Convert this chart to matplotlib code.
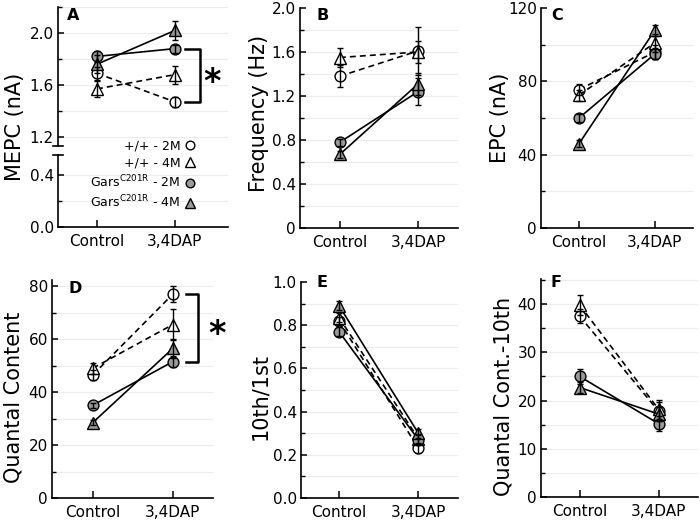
import matplotlib
matplotlib.use("Agg")
import matplotlib.pyplot as plt
from matplotlib.lines import Line2D
import numpy as np

plt.rcParams['font.family'] = ['DejaVu Sans']
plt.rcParams['lines.scale_dashes'] = False
plt.rcParams['mathtext.fontset'] = 'dejavusans'

# ---------------- data ----------------
conditions = ['Control', '3,4DAP']
series_names = ['+/+ - 2M', '+/+ - 4M',
                'Gars$^{\\mathrm{C201R}}$ - 2M', 'Gars$^{\\mathrm{C201R}}$ - 4M']

# A: MEPC (nA)
mepc_wt2m = [1.69, 1.47];   mepc_wt2m_err = [0.05, 0.04]
mepc_wt4m = [1.57, 1.68];   mepc_wt4m_err = [0.06, 0.07]
mepc_g2m = [1.82, 1.88];    mepc_g2m_err = [0.04, 0.03]
mepc_g4m = [1.76, 2.02];    mepc_g4m_err = [0.07, 0.07]

# B: Frequency (Hz)
freq_wt2m = [1.38, 1.61];   freq_wt2m_err = [0.10, 0.22]
freq_wt4m = [1.55, 1.60];   freq_wt4m_err = [0.09, 0.10]
freq_g2m = [0.78, 1.24];    freq_g2m_err = [0.03, 0.12]
freq_g4m = [0.67, 1.31];    freq_g4m_err = [0.03, 0.10]

# C: EPC (nA)
epc_wt2m = [75.5, 96.0];    epc_wt2m_err = [3, 4]
epc_wt4m = [72.5, 101.0];   epc_wt4m_err = [3, 5]
epc_g2m = [60.0, 95.0];     epc_g2m_err = [2, 3]
epc_g4m = [46.0, 108.0];    epc_g4m_err = [2, 3]

# D: Quantal Content
qc_wt2m = [46.5, 77.0];     qc_wt2m_err = [2, 3]
qc_wt4m = [49.0, 65.5];     qc_wt4m_err = [2, 6]
qc_g2m = [35.0, 51.5];      qc_g2m_err = [1, 2]
qc_g4m = [28.5, 56.5];      qc_g4m_err = [1, 3.5]

# E: 10th/1st
ratio_wt2m = [0.82, 0.23];  ratio_wt2m_err = [0.02, 0.02]
ratio_wt4m = [0.835, 0.275]; ratio_wt4m_err = [0.02, 0.02]
ratio_g2m = [0.77, 0.27];   ratio_g2m_err = [0.02, 0.02]
ratio_g4m = [0.89, 0.30];   ratio_g4m_err = [0.02, 0.02]

# F: Quantal Cont.-10th
qc10_wt2m = [37.5, 17.8];   qc10_wt2m_err = [1.5, 2.0]
qc10_wt4m = [39.8, 18.2];   qc10_wt4m_err = [2.0, 2.0]
qc10_g2m = [25.0, 15.2];    qc10_g2m_err = [1.5, 1.5]
qc10_g4m = [22.7, 17.2];    qc10_g4m_err = [1.2, 1.5]

# axis ticks
A_up_ticks = [1.2, 1.6, 2.0];  A_up_labels = ['1.2', '1.6', '2.0']
A_lo_ticks = [0.0, 0.4];       A_lo_labels = ['0.0', '0.4']
B_ticks = [0, 0.4, 0.8, 1.2, 1.6, 2.0]; B_labels = ['0', '0.4', '0.8', '1.2', '1.6', '2.0']
C_ticks = [0, 40, 80, 120];    C_labels = ['0', '40', '80', '120']
D_ticks = [0, 20, 40, 60, 80]; D_labels = ['0', '20', '40', '60', '80']
E_ticks = [0, 0.2, 0.4, 0.6, 0.8, 1.0]; E_labels = ['0.0', '0.2', '0.4', '0.6', '0.8', '1.0']
F_ticks = [0, 10, 20, 30, 40]; F_labels = ['0', '10', '20', '30', '40']

# ---------------- style ----------------
GRAY = '#9a9a9a'
styles = [dict(marker='o', mfc='white', ls='--', ms=7.8),
          dict(marker='^', mfc='white', ls='--', ms=8.2),
          dict(marker='o', mfc=GRAY, ls='-', ms=7.8),
          dict(marker='^', mfc=GRAY, ls='-', ms=8.2)]
W, H = 700, 523
fig = plt.figure(figsize=(7, 5.23), dpi=100)


def px_axes(left, right, top, bottom):
    return fig.add_axes([left / W, 1 - bottom / H, (right - left) / W, (bottom - top) / H])


def style_axes(ax, ylim, xlim, ticks, labels, minor_step, bottom=True):
    ax.set_ylim(*ylim)
    ax.set_xlim(*xlim)
    ax.set_yticks(ticks)
    ax.set_yticklabels(labels)
    lo = ticks[0] - minor_step * 4
    minors = [t for t in np.arange(lo, ylim[1] + 1e-9, minor_step)
              if ylim[0] - 1e-9 <= t <= ylim[1] + 1e-9 and
              all(abs(t - m) > 1e-9 for m in ticks)]
    ax.set_yticks(minors, minor=True)
    for t in list(ticks) + minors:
        if ylim[0] < t < ylim[1]:
            ax.axhline(t, color='#ececec', lw=0.8, zorder=0)
    for s in ['top', 'right']:
        ax.spines[s].set_visible(False)
    for s in ['left', 'bottom']:
        ax.spines[s].set_linewidth(1.2)
    ax.tick_params(axis='y', which='major', direction='in', length=4, width=1.1,
                   labelsize=11, pad=3)
    ax.tick_params(axis='y', which='minor', direction='in', length=3, width=1.0)
    if bottom:
        ax.set_xticks([0, 1])
        ax.set_xticklabels(conditions)
        ax.tick_params(axis='x', direction='in', length=5, width=1.1, labelsize=11, pad=5)
    else:
        ax.spines['bottom'].set_visible(False)
        ax.set_xticks([])


def draw(ax, vals, errs):
    for v, e, st in zip(vals, errs, styles):
        eb = ax.errorbar([0, 1], v, yerr=e, color='black', lw=1.2, marker=st['marker'],
                         ms=st['ms'], mfc=st['mfc'], mec='black', mew=1.0, ls=st['ls'],
                         elinewidth=1.0, capsize=2, capthick=1.0, barsabove=True, zorder=3)
        if st['ls'] == '--':
            eb.lines[0].set_dashes((4.3, 2.9))


# ---- A (broken axis) ----
A_up = px_axes(58, 228, 7, 146)
A_lo = px_axes(58, 228, 155, 227)
style_axes(A_up, (1.131, 2.2), (-0.5, 1.68), A_up_ticks, A_up_labels, 0.2, bottom=False)
style_axes(A_lo, (0.0, 0.554), (-0.5, 1.68), A_lo_ticks, A_lo_labels, 0.2)
draw(A_up, [mepc_wt2m, mepc_wt4m, mepc_g2m, mepc_g4m],
     [mepc_wt2m_err, mepc_wt4m_err, mepc_g2m_err, mepc_g4m_err])
A_up.set_ylabel('MEPC (nA)', fontsize=15)
A_up.yaxis.set_label_coords(-0.194, 0.137)
# break marks
A_up.plot([-0.03, 0.03], [0, 0], transform=A_up.transAxes, color='black', lw=1.2, clip_on=False)
A_lo.plot([-0.03, 0.03], [1, 1], transform=A_lo.transAxes, color='black', lw=1.2, clip_on=False)
# significance bracket
bx = 1.32
A_up.plot([1.13, bx, bx, 1.13], [mepc_g2m[1], mepc_g2m[1], mepc_wt2m[1], mepc_wt2m[1]],
          color='black', lw=1.8, clip_on=False, zorder=2)
A_up.annotate('*', xy=(1.47, (mepc_g2m[1] + mepc_wt2m[1]) / 2), xytext=(0, -12),
              textcoords='offset points', ha='center', va='baseline',
              fontsize=24, fontweight='bold', annotation_clip=False)

# legend
handles = [Line2D([], [], ls='none', marker=st['marker'], ms=st['ms'] * 0.8,
                  mfc=st['mfc'], mec='black', mew=1.0) for st in styles]
fig.legend(handles, series_names, loc='center right',
           bbox_to_anchor=(195 / W, 1 - 175 / H), frameon=False, markerfirst=False,
           handlelength=0.8, handletextpad=0.35, labelspacing=0.3, fontsize=9,
           borderpad=0, borderaxespad=0)

# ---- B ----
axB = px_axes(300, 458, 8, 228)
style_axes(axB, (0, 2.0), (-0.51, 1.51), B_ticks, B_labels, 0.2)
draw(axB, [freq_wt2m, freq_wt4m, freq_g2m, freq_g4m],
     [freq_wt2m_err, freq_wt4m_err, freq_g2m_err, freq_g4m_err])
axB.set_ylabel('Frequency (Hz)', fontsize=15)
axB.yaxis.set_label_coords(-0.196, 0.52)

# ---- C ----
axC = px_axes(541, 693, 8, 228)
style_axes(axC, (0, 120), (-0.5, 1.5), C_ticks, C_labels, 20)
draw(axC, [epc_wt2m, epc_wt4m, epc_g2m, epc_g4m],
     [epc_wt2m_err, epc_wt4m_err, epc_g2m_err, epc_g4m_err])
axC.set_ylabel('EPC (nA)', fontsize=15)
axC.yaxis.set_label_coords(-0.204, 0.5)

# ---- D ----
axD = px_axes(52, 213, 280, 498)
style_axes(axD, (0, 82.3), (-0.51, 1.5), D_ticks, D_labels, 10)
draw(axD, [qc_wt2m, qc_wt4m, qc_g2m, qc_g4m],
     [qc_wt2m_err, qc_wt4m_err, qc_g2m_err, qc_g4m_err])
axD.set_ylabel('Quantal Content', fontsize=15)
axD.yaxis.set_label_coords(-0.18, 0.463)
bxD = 1.31
axD.plot([1.16, bxD, bxD, 1.16], [qc_wt2m[1], qc_wt2m[1], qc_g2m[1], qc_g2m[1]],
         color='black', lw=1.8, clip_on=False, zorder=2)
axD.annotate('*', xy=(1.55, (qc_wt2m[1] + qc_g2m[1]) / 2), xytext=(0, -12),
             textcoords='offset points', ha='center', va='baseline',
             fontsize=24, fontweight='bold', annotation_clip=False)

# ---- E ----
axE = px_axes(301, 458, 282, 498)
style_axes(axE, (0, 1.0), (-0.48, 1.5), E_ticks, E_labels, 0.1)
draw(axE, [ratio_wt2m, ratio_wt4m, ratio_g2m, ratio_g4m],
     [ratio_wt2m_err, ratio_wt4m_err, ratio_g2m_err, ratio_g4m_err])
axE.set_ylabel('10th/1st', fontsize=15)
axE.yaxis.set_label_coords(-0.197, 0.47)

# ---- F ----
axF = px_axes(541, 698, 279, 497)
style_axes(axF, (0, 45.2), (-0.49, 1.5), F_ticks, F_labels, 5)
draw(axF, [qc10_wt2m, qc10_wt4m, qc10_g2m, qc10_g4m],
     [qc10_wt2m_err, qc10_wt4m_err, qc10_g2m_err, qc10_g4m_err])
axF.set_ylabel('Quantal Cont.-10th', fontsize=15)
axF.yaxis.set_label_coords(-0.172, 0.463)

# panel letters
for letter, x, y in [('A', 67, 8), ('B', 317, 8), ('C', 551, 8),
                     ('D', 68, 281), ('E', 316, 275), ('F', 550, 275)]:
    fig.text(x / W, 1 - y / H, letter, ha='left', va='top', fontsize=11.5,
             fontweight='bold')

fig.savefig('out.png', dpi=100)
